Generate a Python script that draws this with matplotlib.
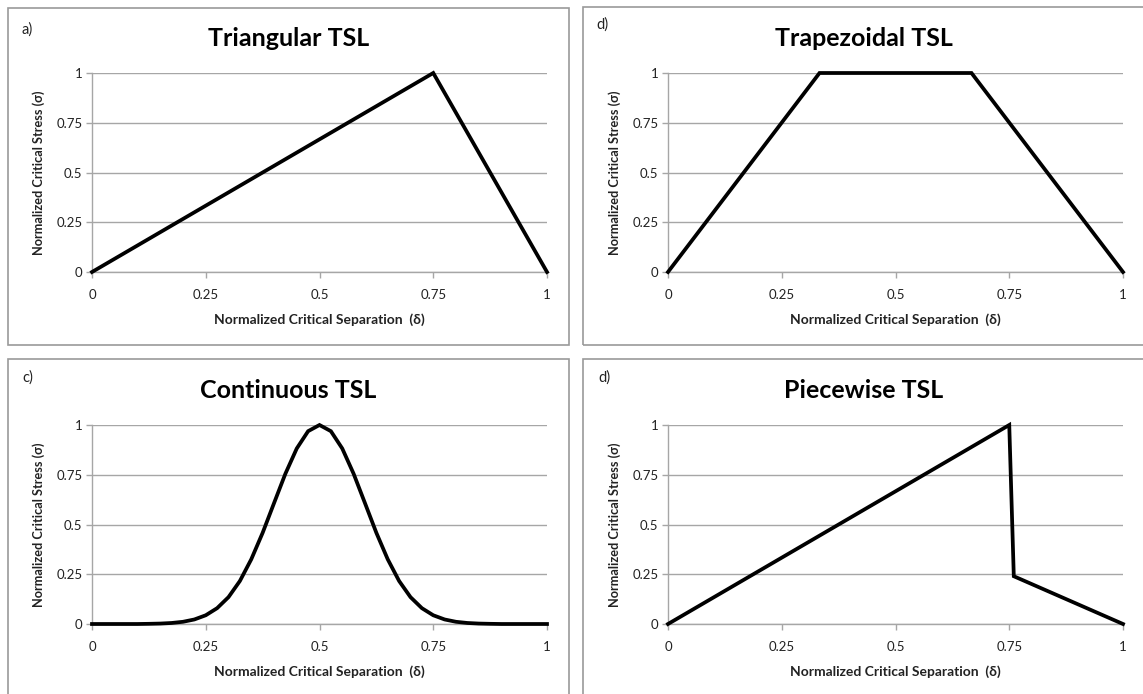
import matplotlib
matplotlib.use("Agg")
import matplotlib.pyplot as plt
from matplotlib.patches import Rectangle

plt.rcParams['font.family'] = ['Lato', 'DejaVu Sans']

# Triangular traction-separation law
tri_x = [0.0, 0.75, 1.0]
tri_y = [0.0, 1.0, 0.0]

# Trapezoidal traction-separation law
trap_x = [0.0, 0.333, 0.667, 1.0]
trap_y = [0.0, 1.0, 1.0, 0.0]

# Continuous (bell-shaped) traction-separation law
cont_x = [0.0, 0.025, 0.05, 0.075, 0.1, 0.125, 0.15, 0.175, 0.2, 0.225,
          0.25, 0.275, 0.3, 0.325, 0.35, 0.375, 0.4, 0.425, 0.45, 0.475,
          0.5, 0.525, 0.55, 0.575, 0.6, 0.625, 0.65, 0.675, 0.7, 0.725,
          0.75, 0.775, 0.8, 0.825, 0.85, 0.875, 0.9, 0.925, 0.95, 0.975, 1.0]
cont_y = [0.0, 0.0, 0.0, 0.0, 0.0, 0.0009, 0.0022, 0.0051, 0.0111, 0.0228,
          0.0439, 0.0796, 0.135, 0.216, 0.325, 0.458, 0.607, 0.755, 0.882, 0.969,
          1.0, 0.969, 0.882, 0.755, 0.607, 0.458, 0.325, 0.216, 0.135, 0.0796,
          0.0439, 0.0228, 0.0111, 0.0051, 0.0022, 0.0009, 0.0, 0.0, 0.0, 0.0, 0.0]

# Piecewise traction-separation law
pw_x = [0.0, 0.75, 0.76, 1.0]
pw_y = [0.0, 1.0, 0.24, 0.0]

ticks = [0, 0.25, 0.5, 0.75, 1]
tick_labels = ['0', '0.25', '0.5', '0.75', '1']

panels = [
    ("a)", "Triangular TSL", tri_x, tri_y),
    ("d)", "Trapezoidal TSL", trap_x, trap_y),
    ("c)", "Continuous TSL", cont_x, cont_y),
    ("d)", "Piecewise TSL", pw_x, pw_y),
]

W, H = 1143, 694
fig = plt.figure(figsize=(W / 100, H / 100), dpi=100)
fig.patch.set_facecolor('white')

# frame boxes (pixel coords: left, top, right, bottom)
frames = [(8, 8, 569, 345), (583, 7, 1145, 345), (8, 359, 569, 710), (583, 359, 1145, 710)]
axes_boxes = [(92, 73, 547, 272), (668, 73, 1123, 272), (92, 425, 547, 624), (668, 425, 1123, 624)]
label_pos = [(22, 30), (596, 25), (22, 378), (598, 378)]
title_y = [38, 38, 390, 390]
grid_col = '#a6a6a6'

def fx(px):
    return px / W

def fy(py):
    return 1 - py / H

for (tag, title, xs, ys), fr, ab, lp, ty in zip(panels, frames, axes_boxes, label_pos, title_y):
    l, t, r, b = fr
    fig.patches.append(Rectangle((fx(l), fy(b)), fx(r) - fx(l), fy(t) - fy(b),
                                 transform=fig.transFigure, fill=False,
                                 edgecolor='#9a9a9a', linewidth=1.2))
    fig.text(fx(lp[0]), fy(lp[1]), tag, fontsize=10.5, ha='left', va='center', color='#222222')
    fig.text(fx((l + r) / 2), fy(ty), title, fontsize=18, fontweight='bold',
             ha='center', va='center', color='black')

    al, at, ar, abm = ab
    ax = fig.add_axes([fx(al), fy(abm), fx(ar) - fx(al), fy(at) - fy(abm)])
    ax.plot(xs, ys, color='black', linewidth=2.7, solid_joinstyle='miter', clip_on=False, zorder=3)
    ax.set_xlim(0, 1)
    ax.set_ylim(0, 1)
    ax.set_xticks(ticks)
    ax.set_xticklabels(tick_labels)
    ax.set_yticks(ticks)
    ax.set_yticklabels(tick_labels)
    ax.grid(axis='y', color=grid_col, linewidth=1.0)
    ax.set_axisbelow(True)
    for s in ['top', 'right']:
        ax.spines[s].set_visible(False)
    for s in ['left', 'bottom']:
        ax.spines[s].set_color(grid_col)
        ax.spines[s].set_linewidth(1.0)
    ax.tick_params(axis='both', colors=grid_col, length=4, width=1.0, labelsize=9.5,
                   labelcolor='#222222', direction='out')
    ax.tick_params(axis='x', pad=8)
    ax.tick_params(axis='y', pad=3)
    ax.set_xlabel('Normalized Critical Separation  (δ)', fontsize=10, fontweight='bold',
                  labelpad=9, color='#222222')
    ax.set_ylabel('Normalized Critical Stress (σ)', fontsize=9.2, fontweight='bold',
                  labelpad=8, color='#222222')

fig.savefig('out.png', dpi=100, facecolor='white')
